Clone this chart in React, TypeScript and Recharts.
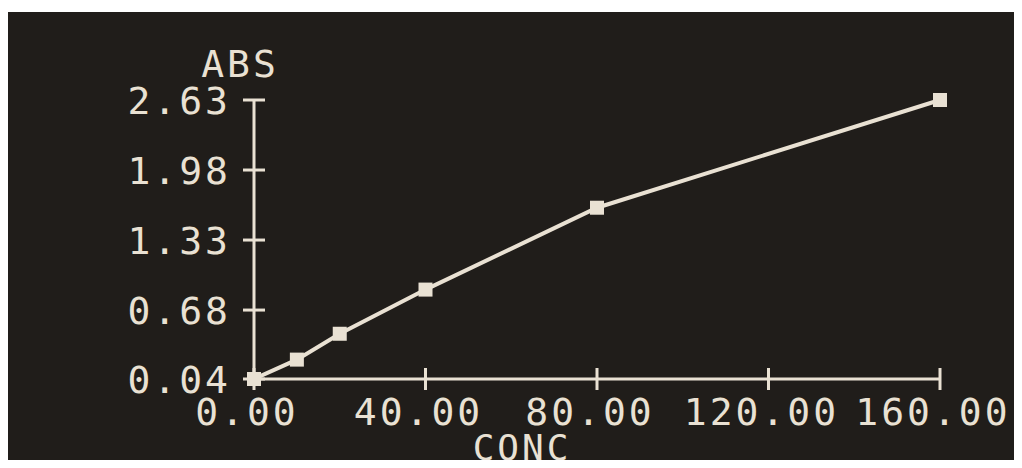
import { LineChart, Line, XAxis, YAxis } from "recharts";

const FG = "#e9e1d3";
const BG = "#201d1a";
const FONT = "'DejaVu Sans Mono', monospace";

const concValues = [0, 10, 20, 40, 80, 160];
const absValues = [0.04, 0.22, 0.46, 0.87, 1.63, 2.63];
const xTicks = [0, 40, 80, 120, 160];
const yTicks = [0.04, 0.68, 1.33, 1.98, 2.63];

const data = concValues.map((c, i) => ({ conc: c, abs: absValues[i] }));

const textStyle = { fontFamily: FONT, fontSize: 38, letterSpacing: 3, fill: FG };

function YTick(props: any) {
  const { x, y, payload } = props;
  return (
    <g>
      <line x1={x - 11} x2={x + 11} y1={y} y2={y} stroke={FG} strokeWidth={3} />
      <text x={x - 23} y={y + 14} textAnchor="end" style={textStyle}>
        {payload.value.toFixed(2)}
      </text>
    </g>
  );
}

function XTick(props: any) {
  const { x, y, payload } = props;
  return (
    <g>
      <line x1={x} x2={x} y1={y - 11} y2={y + 11} stroke={FG} strokeWidth={3} />
      <text x={x - 7} y={y + 46} textAnchor="middle" style={textStyle}>
        {payload.value.toFixed(2)}
      </text>
    </g>
  );
}

function SquareDot(props: any) {
  const { cx, cy } = props;
  if (cx == null || cy == null) return null;
  return <rect x={cx - 7} y={cy - 7} width={14} height={14} fill={FG} />;
}

export default function App() {
  return (
    <div style={{ position: "relative", width: 1022, height: 468, background: "#fff", margin: -8, overflow: "hidden" }}>
      <div style={{ position: "absolute", left: 6, top: 12, right: 0, bottom: 0, background: BG }} />
      <div style={{ position: "absolute", left: 0, top: 0 }}>
        <LineChart width={1022} height={468} data={data}
          margin={{ top: 100, right: 82, bottom: 29, left: 124 }}>
          <XAxis dataKey="conc" type="number" domain={[0, 160]} ticks={xTicks} height={60}
            axisLine={{ stroke: FG, strokeWidth: 3 }} tickLine={false} tickSize={0} tickMargin={0}
            tick={<XTick />}
            label={{
              content: (p: any) => (
                <text x={p.viewBox.x + 268} y={p.viewBox.y + 81} textAnchor="middle"
                  style={{ ...textStyle, fontSize: 36 }}>
                  CONC
                </text>
              ),
            }} />
          <YAxis dataKey="abs" type="number" domain={[0.04, 2.63]} ticks={yTicks} width={130}
            axisLine={{ stroke: FG, strokeWidth: 3 }} tickLine={false} tickSize={0} tickMargin={0}
            tick={<YTick />}
            label={{
              content: (p: any) => (
                <text x={p.viewBox.x + p.viewBox.width - 14} y={p.viewBox.y - 23} textAnchor="middle" style={textStyle}>
                  ABS
                </text>
              ),
            }} />
          <Line type="linear" dataKey="abs" stroke={FG} strokeWidth={4}
            dot={<SquareDot />} activeDot={false} isAnimationActive={false} />
        </LineChart>
      </div>
    </div>
  );
}
